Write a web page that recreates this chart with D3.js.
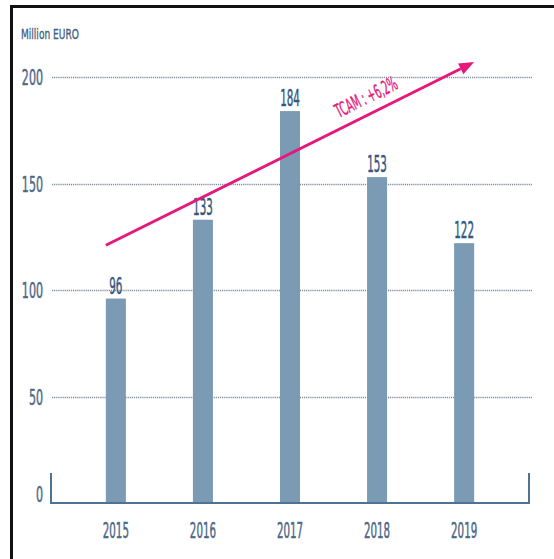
<!DOCTYPE html>
<html>
<head>
<meta charset="utf-8">
<script src="https://cdn.jsdelivr.net/npm/d3@7"></script>
<style>
  html, body { margin: 0; padding: 0; background: #fff; }
  svg { display: block; }
</style>
</head>
<body>
<svg id="chart" width="554" height="559"></svg>
<script>
// Annual amounts, million euro
const years = ["2015", "2016", "2017", "2018", "2019"];
const values = [96, 133, 184, 153, 122];
const yTicks = [0, 50, 100, 150, 200];
const unitLabel = "Million EURO";
const trendLabel = "TCAM : +6,2%";
// Trend arrow runs from a level near the first year up past the top gridline
const trendFrom = { year: "2015", value: 121 };
const trendTo = { year: "2019", value: 207 };

const W = 554, H = 559;
const FONT = "'Liberation Sans Narrow', 'DejaVu Sans Condensed', sans-serif";

const svg = d3.select("#chart");

// frame lines on the left and top edges
svg.append("path")
  .attr("d", `M11.5,${H} V6.5 H${W}`)
  .attr("fill", "none")
  .attr("stroke", "#111")
  .attr("stroke-width", 3);

const plot = { left: 51, right: 529, top: 80, bottom: 503 };

const x = d3.scaleBand()
  .domain(years)
  .range([plot.left, plot.right])
  .paddingInner(0.77)
  .paddingOuter(0.63);

const y = d3.scaleLinear()
  .domain([0, 200])
  .range([plot.bottom, 77]);

// condensed text helper: draws text horizontally squeezed
function narrowText(g, str, px, py, opts) {
  const sx = opts.sx || 0.6;
  return g.append("text")
    .attr("transform", `translate(${px},${py}) rotate(${opts.rotate || 0}) scale(${sx},1)`)
    .attr("text-anchor", opts.anchor || "middle")
    .attr("font-family", FONT)
    .attr("font-size", opts.size || 22)
    .attr("fill", opts.fill || "#4f6a88")
    .attr("stroke", opts.fill || "#4f6a88")
    .attr("stroke-width", opts.sw || 0.5)
    .text(str);
}

// dotted gridlines (skip zero, which is the baseline)
const grid = svg.append("g");
grid.selectAll("line")
  .data(yTicks.filter(t => t > 0))
  .join("line")
  .attr("x1", 52)
  .attr("x2", 532)
  .attr("y1", d => Math.round(y(d)) + 0.5)
  .attr("y2", d => Math.round(y(d)) + 0.5)
  .attr("stroke", "#7f8c9a")
  .attr("stroke-width", 1.6)
  .attr("stroke-dasharray", "1.2,0.9");

// y-axis labels
const yAxis = svg.append("g");
yTicks.forEach(t => {
  narrowText(yAxis, String(t), 43, y(t) + (t === 0 ? -1 : 8), { anchor: "end", size: 22, sx: 0.56, fill: "#4f6887" });
});

// unit label
narrowText(svg, unitLabel, 21, 39, { anchor: "start", size: 14, sx: 0.72, fill: "#435e7e", sw: 0.3 });

// bars
svg.append("g").selectAll("rect")
  .data(values)
  .join("rect")
  .attr("x", (d, i) => x(years[i]))
  .attr("width", x.bandwidth())
  .attr("y", d => y(d))
  .attr("height", d => y(0) - y(d))
  .attr("fill", "#7b9bb5");

// baseline bracket
svg.append("path")
  .attr("d", `M${plot.left},473 V${plot.bottom} H${plot.right} V473`)
  .attr("fill", "none")
  .attr("stroke", "#4d7394")
  .attr("stroke-width", 2);

// value labels
const vl = svg.append("g");
values.forEach((v, i) => {
  narrowText(vl, String(v), x(years[i]) + x.bandwidth() / 2, y(v) - 5, { size: 23, sx: 0.5, fill: "#35587f" });
});

// x-axis labels
const xl = svg.append("g");
years.forEach(yr => {
  narrowText(xl, yr, x(yr) + x.bandwidth() / 2, 538, { size: 22, sx: 0.52, fill: "#4d6786" });
});

// growth arrow
const pink = "#e5197c";
const ax1 = x(trendFrom.year), ay1 = y(trendFrom.value);
const ax2 = x(trendTo.year) + x.bandwidth(), ay2 = y(trendTo.value);
const ang = Math.atan2(ay2 - ay1, ax2 - ax1);
const headLen = 15, headW = 6;
const bx = ax2 - headLen * Math.cos(ang), by = ay2 - headLen * Math.sin(ang);
svg.append("line")
  .attr("x1", ax1).attr("y1", ay1)
  .attr("x2", bx).attr("y2", by)
  .attr("stroke", pink)
  .attr("stroke-width", 3);
svg.append("path")
  .attr("d", `M${ax2},${ay2} L${bx + headW * Math.sin(ang)},${by - headW * Math.cos(ang)} L${bx - headW * Math.sin(ang)},${by + headW * Math.cos(ang)} Z`)
  .attr("fill", pink);

// trend label along the arrow
const deg = ang * 180 / Math.PI;
narrowText(svg, trendLabel, 369, 103, { size: 19, sx: 0.55, fill: pink, rotate: deg, sw: 0.4 });
</script>
</body>
</html>
